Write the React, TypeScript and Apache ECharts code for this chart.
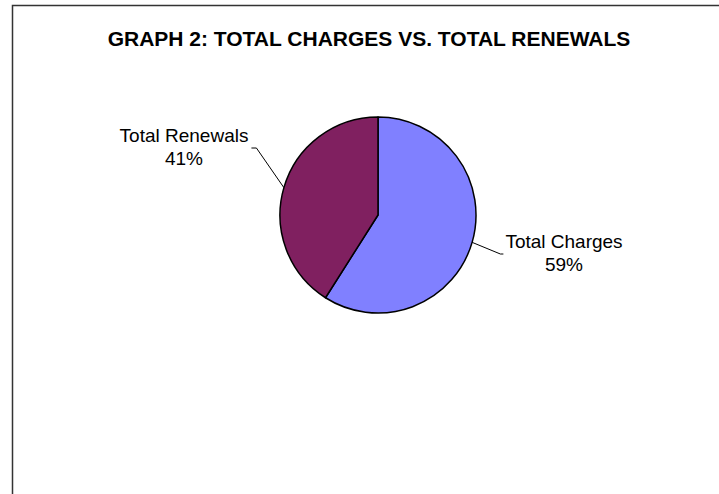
import React, { useEffect, useRef } from "react";
import * as echarts from "echarts";

const titleText = "GRAPH 2: TOTAL CHARGES VS. TOTAL RENEWALS";
const categories = ["Total Charges", "Total Renewals"];
const values = [59, 41];
const colors = ["#8080FF", "#802060"];
// label block centres (layout)
const labelCenters = [
  [564, 253],
  [184, 147],
];

export default function App() {
  const ref = useRef<HTMLDivElement>(null);
  useEffect(() => {
    if (!ref.current) return;
    const chart = echarts.init(ref.current, null, { renderer: "svg" });
    chart.setOption({
      animation: false,
      backgroundColor: "#ffffff",
      graphic: [
        {
          type: "polyline",
          shape: { points: [[12.5, 494], [12.5, 5.5], [719, 5.5]] },
          style: { stroke: "#333", lineWidth: 1.5, fill: "none" },
          silent: true,
        },
        {
          type: "text",
          x: 369,
          y: 28,
          silent: true,
          style: {
            text: titleText,
            align: "center",
            verticalAlign: "top",
            fontFamily: "Liberation Sans, Arial, sans-serif",
            fontWeight: "bold",
            fontSize: 21,
            fill: "#000",
          },
        },
      ],
      series: [
        {
          type: "pie",
          center: [378, 215],
          radius: 98,
          startAngle: 90,
          clockwise: true,
          percentPrecision: 0,
          data: categories.map((c, i) => ({
            name: c,
            value: values[i],
            itemStyle: { color: colors[i] },
          })),
          itemStyle: { borderColor: "#000", borderWidth: 1.5 },
          emphasis: { disabled: true },
          label: {
            show: true,
            position: "outside",
            formatter: "{a|{b}}\n{a|{d}%}",
            rich: {
              a: {
                fontFamily: "Liberation Sans, Arial, sans-serif",
                fontSize: 19,
                lineHeight: 23,
                color: "#000",
                align: "center",
              },
            },
          },
          labelLine: {
            show: true,
            length: 28,
            length2: 3,
            lineStyle: { color: "#000", width: 1 },
          },
          labelLayout: (params: any) => {
            const idx = params.dataIndex;
            const [cx, cy] = labelCenters[idx];
            const w = params.labelRect.width;
            const p0 = params.labelLinePoints ? params.labelLinePoints[0] : null;
            const out: any = { x: cx, y: cy, align: "center", verticalAlign: "middle" };
            if (p0) {
              if (idx === 0) {
                const left = cx - w / 2;
                out.labelLinePoints = [
                  [p0[0], p0[1]],
                  [left - 5, cy + 1],
                  [left - 2, cy + 1],
                ];
              } else {
                const right = cx + w / 2;
                out.labelLinePoints = [
                  [p0[0], p0[1]],
                  [right + 8, cy + 1],
                  [right + 3, cy + 1],
                ];
              }
            }
            return out;
          },
        },
      ],
    });
    return () => chart.dispose();
  }, []);
  return (
    <div
      ref={ref}
      style={{ position: "fixed", left: 0, top: 0, width: 719, height: 494 }}
    />
  );
}
